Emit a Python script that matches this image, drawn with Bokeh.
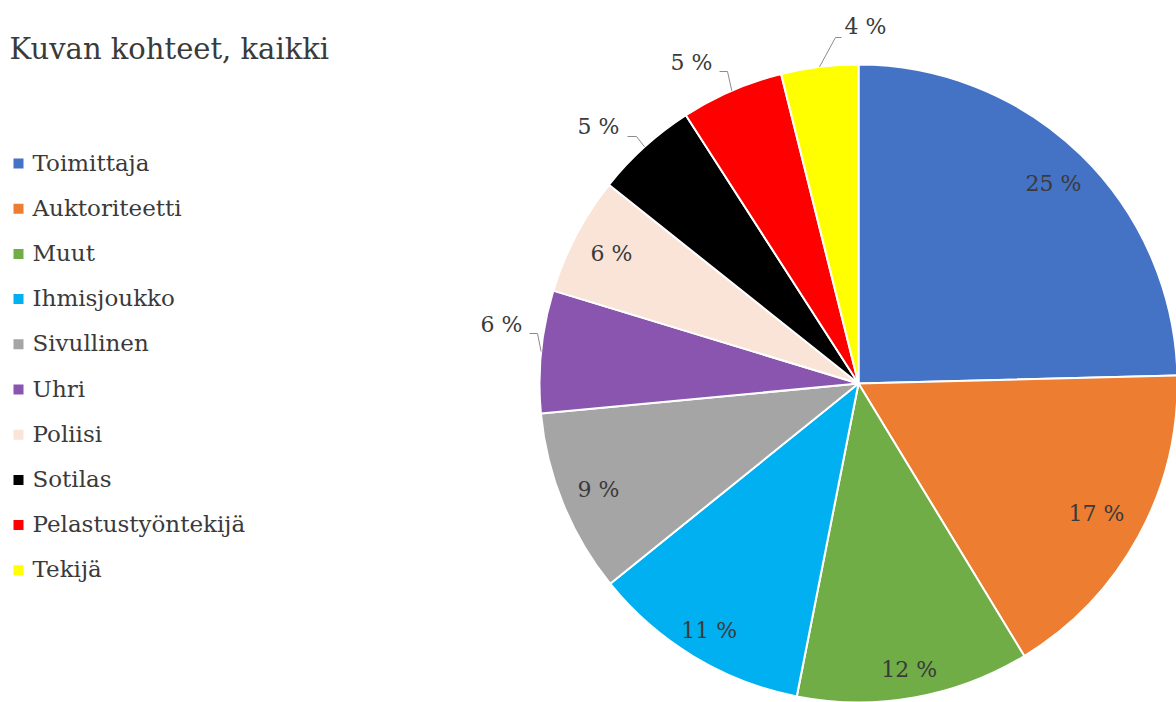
import math
from bokeh.plotting import figure
from bokeh.models import ColumnDataSource
from bokeh.core.properties import value
from bokeh.embed import file_html
from bokeh.resources import INLINE

# ---- data ----
title_text = "Kuvan kohteet, kaikki"
categories = ["Toimittaja", "Auktoriteetti", "Muut", "Ihmisjoukko", "Sivullinen",
              "Uhri", "Poliisi", "Sotilas", "Pelastustyöntekijä", "Tekijä"]
shares = [24.6, 16.7, 11.8, 11.1, 9.3, 6.2, 6.0, 5.2, 5.2, 3.9]
labels = ["25 %", "17 %", "12 %", "11 %", "9 %", "6 %", "6 %", "5 %", "5 %", "4 %"]
colors = ["#4472C4", "#ED7D31", "#70AD47", "#00B0F0", "#A5A5A5",
          "#8955AE", "#F9E4D7", "#000000", "#FF0000", "#FFFF00"]
outside = [False, False, False, False, False, True, False, True, True, True]

# ---- layout (styling) ----
PW, PH = 1176, 702
FONT = "DejaVu Serif"
TXT = "#3a3a3a"


def sx(x):
    return x


def sy(y):
    return PH - y


CX, CY, R = sx(858), sy(383), 319
# radial placement of inside labels, per slice
label_frac = [0.875, 0.85, 0.91, 0.905, 0.88, 0.0, 0.875, 0.0, 0.0, 0.0]
# screen positions of outside labels (centre) and leader elbow
outside_label_pos = {5: (501, 324), 7: (598, 126), 8: (691, 62), 9: (865, 26)}
leader_start = {5: ((529, 333), (537, 333)), 7: ((627, 136), (636, 136)),
                8: ((719, 71), (727, 71)), 9: ((841, 37), (835, 37))}

p = figure(width=PW, height=PH, x_range=(0, PW), y_range=(0, PH),
           x_axis_type=None, y_axis_type=None, toolbar_location=None,
           output_backend="svg", min_border=0, outline_line_color=None)
p.grid.visible = False
p.background_fill_color = "white"
p.border_fill_color = "white"

total = sum(shares)
starts, ends, mids = [], [], []
cum = 0.0
for s in shares:
    f0 = cum / total
    cum += s
    f1 = cum / total
    starts.append(math.pi / 2 - 2 * math.pi * f0)
    ends.append(math.pi / 2 - 2 * math.pi * f1)
    mids.append((f0 + f1) / 2)

src = ColumnDataSource(dict(start=starts, end=ends, color=colors, cat=categories))
p.wedge(x=CX, y=CY, radius=R, start_angle="start", end_angle="end",
        direction="clock", fill_color="color", line_color="white",
        line_width=2, source=src)

# labels
in_x, in_y, in_t = [], [], []
out_x, out_y, out_t = [], [], []
lx, ly = [], []
for i, m in enumerate(mids):
    a = 2 * math.pi * m
    if not outside[i]:
        in_x.append(CX + label_frac[i] * R * math.sin(a))
        in_y.append(CY + label_frac[i] * R * math.cos(a))
        in_t.append(labels[i])
    else:
        px, py = outside_label_pos[i]
        out_x.append(sx(px))
        out_y.append(sy(py))
        out_t.append(labels[i])
        (x0, y0), (x1, y1) = leader_start[i]
        ax = CX + R * math.sin(a)
        ay = CY + R * math.cos(a)
        lx.append([sx(x0), sx(x1), ax])
        ly.append([sy(y0), sy(y1), ay])

p.multi_line(xs=lx, ys=ly, line_color="#8c8c8c", line_width=1)
p.text(x=in_x, y=in_y, text=in_t, text_font=value(FONT), text_font_size="22px",
       text_color=TXT, text_align="center", text_baseline="middle")
p.text(x=out_x, y=out_y, text=out_t, text_font=value(FONT), text_font_size="22px",
       text_color=TXT, text_align="center", text_baseline="middle")

# title
p.text(x=[sx(9)], y=[sy(48)], text=[title_text], text_font=value(FONT),
       text_font_size="29px", text_color=TXT, text_align="left",
       text_baseline="middle")

# legend
LEG_Y0, LEG_DY = 163, 45.2
leg_y = [sy(LEG_Y0 + LEG_DY * i) for i in range(len(categories))]
p.scatter(x=[sx(18)] * len(categories), y=leg_y, marker="square", size=10,
          fill_color=colors, line_color=None)
p.text(x=[sx(32)] * len(categories), y=[y + 1 for y in leg_y], text=categories,
       text_font=value(FONT), text_font_size="23px", text_color=TXT,
       text_align="left", text_baseline="middle")

open("out.html", "w").write(file_html(p, INLINE))
